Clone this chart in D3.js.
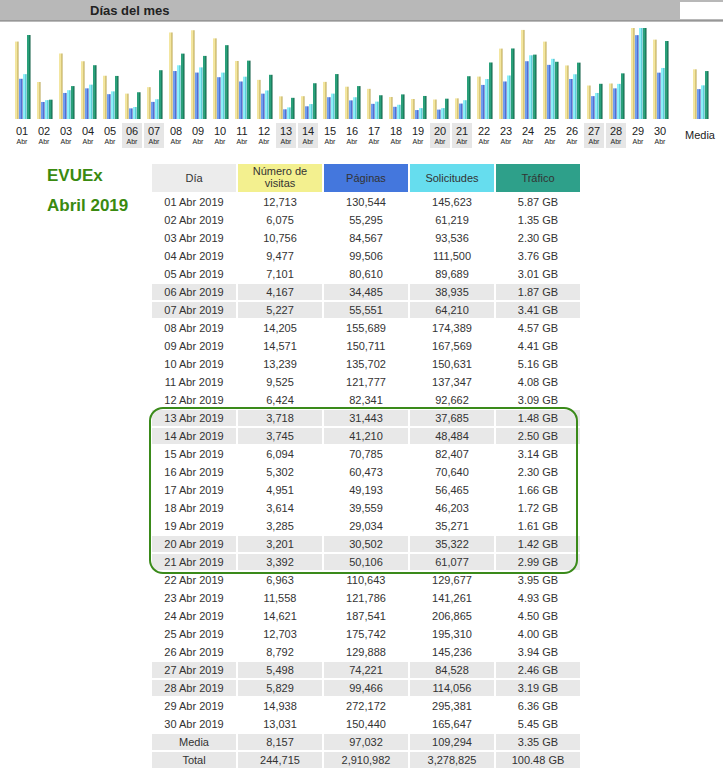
<!DOCTYPE html>
<html><head><meta charset="utf-8">
<script src="https://cdn.jsdelivr.net/npm/d3@7"></script>
<style>body{margin:0;background:#fff;font-family:"Liberation Sans",Arial,sans-serif}</style>
</head><body><div id="chart"></div>
<script>
const days = d3.range(1, 31).map(d => String(d).padStart(2, "0"));
const visits = [12713,6075,10756,9477,7101,4167,5227,14205,14571,13239,9525,6424,3718,3745,6094,5302,4951,3614,3285,3201,3392,6963,11558,14621,12703,8792,5498,5829,14938,13031];
const pages = [130544,55295,84567,99506,80610,34485,55551,155689,150711,135702,121777,82341,31443,41210,70785,60473,49193,39559,29034,30502,50106,110643,121786,187541,175742,129888,74221,99466,272172,150440];
const hits = [145623,61219,93536,111500,89689,38935,64210,174389,167569,150631,137347,92662,37685,48484,82407,70640,56465,46203,35271,35322,61077,129677,141261,206865,195310,145236,84528,114056,295381,165647];
const traffic = [5.87,1.35,2.30,3.76,3.01,1.87,3.41,4.57,4.41,5.16,4.08,3.09,1.48,2.50,3.14,2.30,1.66,1.72,1.61,1.42,2.99,3.95,4.93,4.50,4.00,3.94,2.46,3.19,6.36,5.45];
const weekend = ["06","07","13","14","20","21","27","28"];
const average = [8157, 97032, 109294, 3.35];
const totals = ["244,715","2,910,982","3,278,825","100.48 GB"];
const headers = ["Día","Número de visitas","Páginas","Solicitudes","Tráfico"];
const headerColors = ["#ececec","#f3f08f","#4477dd","#66ddee","#2ea08a"];

const W = 723, H = 779;
const svg = d3.select("#chart").append("svg").attr("width", W).attr("height", H);

// gradients for the bars
const barColors = [["#b8a24a","#f3e6a0"],["#2a44b0","#6f9cf0"],["#2fa8b8","#8cf0f8"],["#0a5a40","#2aa07a"]];
const defs = svg.append("defs");
barColors.forEach((c, i) => {
  const g = defs.append("linearGradient").attr("id", "g" + i);
  g.append("stop").attr("offset", "0%").attr("stop-color", c[1]);
  g.append("stop").attr("offset", "45%").attr("stop-color", c[1]);
  g.append("stop").attr("offset", "100%").attr("stop-color", c[0]);
});

// header band
svg.append("rect").attr("x", 0).attr("y", 0).attr("width", W).attr("height", 21).attr("fill", "#b8b8b8");
svg.append("line").attr("x1", 0).attr("x2", W).attr("y1", 21).attr("y2", 21).attr("stroke", "#777");
svg.append("rect").attr("x", 680).attr("y", 2).attr("width", 43).attr("height", 17).attr("fill", "#fff");
svg.append("text").attr("x", 90).attr("y", 15).attr("font-size", 13).attr("font-weight", "bold").attr("fill", "#222").text("Días del mes");

// bar chart
const x = d3.scalePoint().domain(days).range([22, 660]);
const xPos = d => d === "Media" ? 700 : x(d);
const base = 119, barTop = 28;
const yV = d3.scaleLinear().domain([0, d3.max(visits)]).range([base, barTop]);
const yPH = d3.scaleLinear().domain([0, d3.max(hits)]).range([base, barTop]);
const yT = d3.scaleLinear().domain([0, d3.max(traffic)]).range([base, barTop]);
const rows = days.map((d, i) => ({ d, v: [visits[i], pages[i], hits[i], traffic[i]] }));
rows.push({ d: "Media", v: average });
const scales = [yV, yPH, yPH, yT];

weekend.forEach(d => {
  svg.append("rect").attr("x", xPos(d) - 10).attr("y", 123).attr("width", 20).attr("height", 25).attr("fill", "#e6e6e6");
});

const grp = svg.append("g").selectAll("g").data(rows).join("g");
grp.selectAll("rect").data(r => r.v.map((v, k) => ({ x: xPos(r.d), v, k }))).join("rect")
  .attr("x", b => b.x - 7 + b.k * 4)
  .attr("width", 3.5)
  .attr("y", b => scales[b.k](b.v))
  .attr("height", b => base - scales[b.k](b.v))
  .attr("fill", b => `url(#g${b.k})`);

const lab = svg.append("g").selectAll("g").data(days).join("g");
lab.append("text").attr("x", xPos).attr("y", 135).attr("text-anchor", "middle").attr("font-size", 11).attr("fill", "#222").text(d => d);
lab.append("text").attr("x", xPos).attr("y", 144).attr("text-anchor", "middle").attr("font-size", 7).attr("fill", "#222").text("Abr");
svg.append("text").attr("x", 700).attr("y", 139).attr("text-anchor", "middle").attr("font-size", 11).attr("fill", "#222").text("Media");

// title on the left
svg.append("text").attr("x", 47).attr("y", 181).attr("font-size", 17).attr("font-weight", "bold").attr("fill", "#3a8a10").text("EVUEx");
svg.append("text").attr("x", 47).attr("y", 211).attr("font-size", 17).attr("font-weight", "bold").attr("fill", "#3a8a10").text("Abril 2019");

// table
const colX = [152, 238, 324, 410, 496], colW = 84;
const fmt = d3.format(",");
headers.forEach((h, i) => {
  svg.append("rect").attr("x", colX[i]).attr("y", 164).attr("width", colW).attr("height", 28).attr("fill", headerColors[i]);
  const t = svg.append("text").attr("x", colX[i] + colW / 2).attr("text-anchor", "middle").attr("font-size", 11).attr("fill", "#333");
  if (i === 1) {
    t.attr("y", 175).append("tspan").text("Número de");
    t.append("tspan").attr("x", colX[i] + colW / 2).attr("dy", 12).text("visitas");
  } else t.attr("y", 182).text(h);
});

const tableRows = rows.slice(0, 30).map(r => ({
  cells: [r.d + " Abr 2019", fmt(r.v[0]), fmt(r.v[1]), fmt(r.v[2]), r.v[3].toFixed(2) + " GB"],
  gray: weekend.includes(r.d)
}));
tableRows.push({ cells: ["Media", fmt(average[0]), fmt(average[1]), fmt(average[2]), average[3].toFixed(2) + " GB"], gray: true });
tableRows.push({ cells: ["Total"].concat(totals), gray: true });

const tr = svg.append("g").selectAll("g").data(tableRows).join("g")
  .attr("transform", (r, i) => `translate(0,${194 + i * 18})`);
tr.filter(r => r.gray).selectAll("rect").data(colX).join("rect")
  .attr("x", d => d).attr("y", 0).attr("width", colW).attr("height", 16).attr("fill", "#e8e8e8");
tr.selectAll("text").data(r => r.cells).join("text")
  .attr("x", (c, i) => colX[i] + colW / 2).attr("y", 12).attr("text-anchor", "middle")
  .attr("font-size", 11).attr("fill", "#333").text(c => c);

// highlight of 13-21 Apr
svg.append("rect").attr("x", 150).attr("y", 408).attr("width", 427).attr("height", 165).attr("rx", 13)
  .attr("fill", "none").attr("stroke", "#3a8a1a").attr("stroke-width", 2);
</script>
</body></html>
